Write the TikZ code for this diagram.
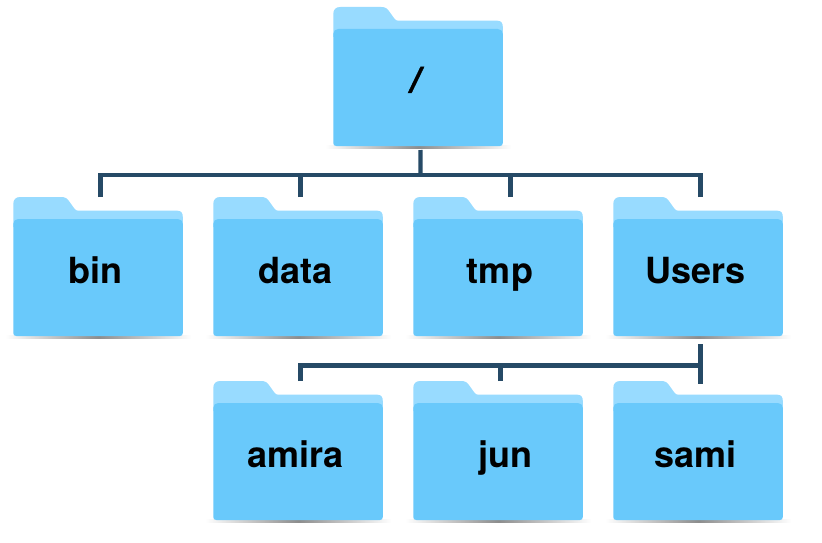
\documentclass[tikz,border=0pt]{standalone}
\usepackage{fontspec}
\setmainfont{TeX Gyre Heros}
\definecolor{folderback}{HTML}{98DBFF}
\definecolor{folderfront}{HTML}{69C9FB}
\definecolor{connector}{HTML}{264A66}
\tikzset{
  x=1pt,y=-1pt,
  conn/.style={draw=connector,line width=4.3pt,line cap=butt,line join=miter},
  folderbox/.style={rectangle,inner sep=0pt,outer sep=0pt,minimum width=169.5pt,minimum height=139pt},
  foldertext/.style={anchor=base,inner sep=0pt,text=black,font=\fontsize{36}{36}\selectfont\bfseries},
}
\newcommand{\folderat}[6]{%
  \begin{scope}[shift={(#2,#3)}]
    \shade[left color=white,right color=white,middle color=black!45] (-8,138.7) rectangle (178,141);
    \fill[folderback] (0,30) -- (0,7) .. controls (0,2.5) and (2.5,0) .. (7,0) -- (48,0)
      .. controls (52,0) and (54,1.5) .. (56,4.5) -- (61,11.5) .. controls (62,13) and (63,13.7) .. (65,13.7)
      -- (164,13.7) .. controls (168,13.7) and (169.5,16) .. (169.5,20) -- (169.5,30) -- cycle;
    \fill[folderfront] (0,27) .. controls (0,24) and (2,22) .. (5,22) -- (164.5,22)
      .. controls (167.5,22) and (169.5,24) .. (169.5,27) -- (169.5,136) .. controls (169.5,138) and (168.5,139) .. (166.5,139)
      -- (3,139) .. controls (1,139) and (0,138) .. (0,136) -- cycle;
    \node[folderbox] (#1) at (84.75,69.5) {};
  \end{scope}
  \node[foldertext] (#1-label) at (#4,#5) {#6};
}
\begin{document}
\begin{tikzpicture}
\useasboundingbox[fill=white] (0,0) rectangle (822,543);
\folderat{root}{333.3}{7}{413.5}{92.5}{\addfontfeature{FakeSlant=0.2,FakeBold=1}/}
\folderat{bin}{13.3}{197}{95.5}{283}{bin}
\folderat{data}{213.3}{197}{295.5}{283}{data}
\folderat{tmp}{413.3}{197}{500}{283}{tmp}
\folderat{users}{613.3}{197}{695.5}{283}{Users}
\folderat{amira}{213.3}{381}{295.5}{467}{amira}
\folderat{jun}{413.3}{381}{505}{467}{jun}
\folderat{sami}{613.3}{381}{695.5}{467}{sami}
% connectors
\coordinate (busA) at (420.5,175);
\coordinate (busB) at (700.5,365.5);
\draw[conn] ([xshift=2.4pt,yshift=-4pt]root.south) -- (busA);
\draw[conn] ([xshift=2.4pt]bin.north) |- (busA);
\draw[conn] ([xshift=2.4pt]data.north) -- ([xshift=2.4pt]data.north |- busA);
\draw[conn] ([xshift=12.4pt]tmp.north) -- ([xshift=12.4pt]tmp.north |- busA);
\draw[conn] ([xshift=2.4pt]users.north) |- (busA);
\draw[conn] ([xshift=2.4pt,yshift=-8pt]users.south) -- ([xshift=2.4pt,yshift=-3pt]sami.north);
\draw[conn] ([xshift=2.4pt]amira.north) |- (busB);
\draw[conn] ([xshift=2.4pt]jun.north) -- ([xshift=2.4pt]jun.north |- busB);
\end{tikzpicture}
\end{document}
